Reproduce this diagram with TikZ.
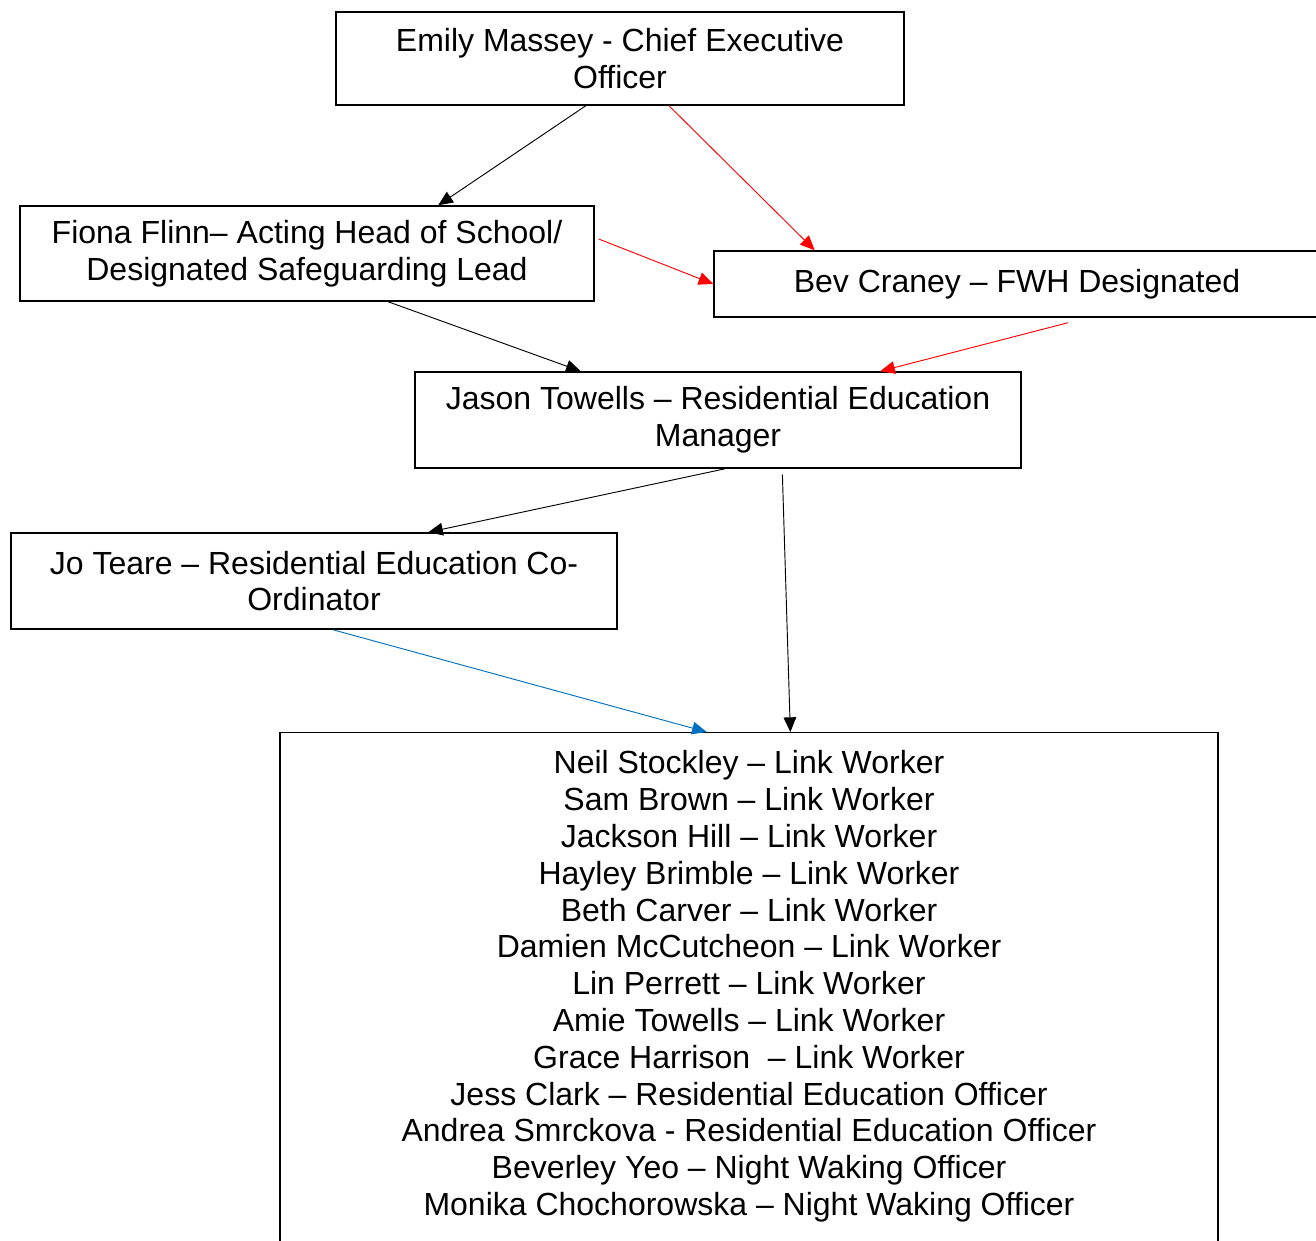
\documentclass[tikz,border=0pt]{standalone}
\usepackage{fontspec}
\setmainfont{Liberation Sans}
\usetikzlibrary{arrows.meta,calc}

\begin{document}
\begin{tikzpicture}[x=0.75pt,y=-0.75pt]
\tikzset{boite/.style={draw, line width=1.1pt, align=center, inner sep=0pt, font=\fontsize{24pt}{27.6pt}\selectfont}}
\tikzset{fleche/.style={-{Triangle[length=11pt,width=9.5pt]}, line width=0.7pt}}
\definecolor{bleu}{RGB}{0,112,192}
\useasboundingbox (0,0) rectangle (1316,1241);
\clip (0,0) rectangle (1316,1241);
\node[boite, minimum width=426pt, minimum height=69.75pt] (CEO) at (620,58.5) {Emily Massey - Chief Executive\\Officer};
\node[boite, minimum width=430.5pt, minimum height=71.25pt] (FF) at (307,253.5) {Fiona Flinn– Acting Head of School/\\Designated Safeguarding Lead};
\node[boite, minimum width=454.5pt, minimum height=49.5pt] (BC) at (1017,284) {Bev Craney – FWH Designated};
\node[boite, minimum width=454.5pt, minimum height=72pt] (JT) at (718,420) {Jason Towells – Residential Education\\Manager};
\node[boite, minimum width=454.5pt, minimum height=72pt] (JoT) at (314,581) {Jo Teare – Residential Education Co-\\Ordinator};
\node[boite, minimum width=703.5pt, inner ysep=13.5pt, anchor=north] (LW) at (749,732) {Neil Stockley – Link Worker\\
Sam Brown – Link Worker\\
Jackson Hill – Link Worker\\
Hayley Brimble – Link Worker\\
Beth Carver – Link Worker\\
Damien McCutcheon – Link Worker\\
Lin Perrett – Link Worker\\
Amie Towells – Link Worker\\
Grace Harrison~~– Link Worker\\
Jess Clark – Residential Education Officer\\
Andrea Smrckova - Residential Education Officer\\
Beverley Yeo – Night Waking Officer\\
Monika Chochorowska – Night Waking Officer\\
~\\
~};
\draw[fleche] ($(CEO.south west)!0.44!(CEO.south east)$) -- ($(FF.north west)!0.728!(FF.north east)$);
\draw[fleche, red] ($(CEO.south west)!0.586!(CEO.south east)$) -- ($(BC.north west)!0.167!(BC.north east)$);
\draw[fleche, red] ($(FF.north east)!0.35!(FF.south east)+(4,0)$) -- (BC.west);
\draw[fleche] ($(FF.south west)!0.641!(FF.south east)$) -- ($(JT.north west)!0.274!(JT.north east)$);
\draw[fleche, red] ($(BC.south west)!0.584!(BC.south east)+(0,5)$) -- ($(JT.north west)!0.767!(JT.north east)$);
\draw[fleche] ($(JT.south west)!0.512!(JT.south east)$) -- ($(JoT.north west)!0.688!(JoT.north east)$);
\draw[fleche] ($(JT.south west)!0.606!(JT.south east)+(0,6)$) -- ($(LW.north west)!0.544!(LW.north east)$);
\draw[fleche, bleu] ($(JoT.south west)!0.531!(JoT.south east)$) -- ($(LW.north west)!0.455!(LW.north east)$);
\end{tikzpicture}
\end{document}
